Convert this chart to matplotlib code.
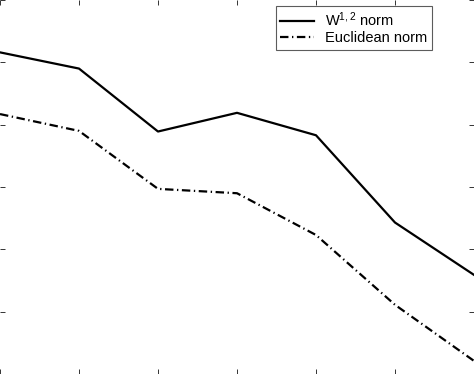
import matplotlib
matplotlib.use("Agg")
import matplotlib.pyplot as plt

# values (arbitrary units, axes range 0..6)
x = [0, 1, 2, 3, 4, 5, 6]
w12_norm = [5.16, 4.90, 3.89, 4.19, 3.83, 2.43, 1.59]
euclid_norm = [4.17, 3.90, 2.97, 2.90, 2.23, 1.11, 0.21]

plt.rcParams["font.family"] = ["Liberation Sans", "DejaVu Sans"]
plt.rcParams["mathtext.fontset"] = "custom"
plt.rcParams["mathtext.rm"] = "Liberation Sans"
plt.rcParams["mathtext.default"] = "regular"

fig = plt.figure(figsize=(4.74, 3.74), dpi=100)
ax = fig.add_axes([0, 0, 1, 1])

ax.plot(x, w12_norm, color="black", linewidth=1.6, label="W$^{1,2}$ norm")
ax.plot(x, euclid_norm, color="black", linewidth=1.6,
        linestyle=(0, (3.8, 1.6, 0.6, 1.6)), label="Euclidean norm")

ax.set_xlim(0, 6)
ax.set_ylim(0, 6)
ax.set_xticks(x)
ax.set_yticks(range(0, 7))
ax.tick_params(direction="in", length=3.6, width=0.7, color="#333333",
               top=True, right=True, labelbottom=False, labelleft=False)
for s in ax.spines.values():
    s.set_visible(False)

leg = ax.legend(loc="upper right", bbox_to_anchor=(432 / 474, 1 - 6 / 374),
                borderaxespad=0, fontsize=10.5, fancybox=False, frameon=True,
                handlelength=2.3, handletextpad=0.8, borderpad=0.3,
                labelspacing=0.15)
leg.get_frame().set_edgecolor("#333333")
leg.get_frame().set_linewidth(0.8)

fig.savefig("out.png", dpi=100)
